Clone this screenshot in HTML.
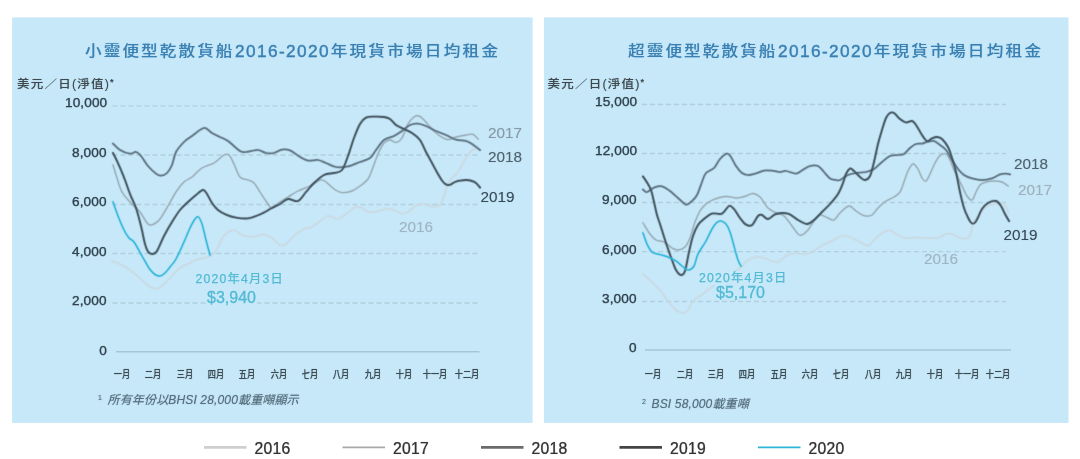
<!DOCTYPE html>
<html lang="zh-Hant"><head><meta charset="utf-8"><title>乾散貨船2016-2020年現貨市場日均租金</title>
<style>
html,body{margin:0;padding:0;background:#fff;}
body{width:1080px;height:459px;position:relative;overflow:hidden;font-family:"Liberation Sans","Noto Sans CJK TC",sans-serif;}
.panel{position:absolute;background:#c6e8f9;}
#wrap{position:absolute;left:0;top:0;width:1080px;height:459px;}
svg{position:absolute;left:0;top:0;}
svg path{fill:none;stroke-linecap:round;stroke-linejoin:round;}
svg .g{stroke:#b3cfdd;stroke-width:1.4;stroke-dasharray:5 3;}
svg .z{stroke:#a4c6d7;stroke-width:1.7;}
.t{position:absolute;white-space:nowrap;line-height:1;}
.title{color:#3a80b2;line-height:22px;height:22px;text-shadow:0 0 1px rgba(58,128,178,0.4);}
.title .c{display:inline-block;font-size:16.6px;letter-spacing:2.1px;font-weight:500;transform:scaleY(0.86);transform-origin:50% 62%;}
.title .c2{letter-spacing:2.25px;margin-left:0.8px;}
.title .n{position:relative;top:1px;margin-left:0.5px;font-size:17.2px;letter-spacing:1.4px;-webkit-text-stroke:0.3px #3a80b2;}
.ylab{color:#3f4a50;line-height:16px;height:16px;text-shadow:0 0 1px rgba(63,74,80,0.4);}
.ylab .c{display:inline-block;font-size:12.5px;letter-spacing:1.25px;font-weight:500;transform:scaleY(0.9);transform-origin:50% 62%;}
.ylab .n{font-size:12.5px;letter-spacing:1px;}
.ylab .s{font-size:9px;vertical-align:3px;font-weight:700;}
.sh{transform:translateY(-0.2px) rotate(0.02deg);}
.tick{letter-spacing:0.12px;font-size:13.6px;color:#31434f;-webkit-text-stroke:0.25px #31434f;text-shadow:0 0 1px rgba(49,67,79,0.45);line-height:16px;text-align:right;}
.mon{font-size:10px;font-weight:500;color:#3c4a52;text-shadow:0 0 1px rgba(60,74,82,0.6);width:40px;text-align:center;line-height:16px;transform:scaleX(0.82);}
.foot{font-size:12px;font-style:italic;color:#566e7e;text-shadow:0 0 1px rgba(86,110,126,0.6);line-height:16px;letter-spacing:0.15px;}
.foot .sup{font-size:7px;font-style:normal;vertical-align:4px;margin-right:2px;}
.ann1{font-size:12.2px;color:#52bad4;-webkit-text-stroke:0.25px #52bad4;line-height:14px;height:14px;letter-spacing:1.25px;background:#c6e8f9;padding:0 0 0 1px;}
.ann2{font-size:16px;color:#52bad4;-webkit-text-stroke:0.3px #52bad4;line-height:15px;height:15px;background:#c6e8f9;padding:0 1px;}
.yl{font-size:15.3px;line-height:18px;}
.leg{font-size:15.7px;color:#333;line-height:19px;letter-spacing:0.25px;-webkit-text-stroke:0.2px #333;text-shadow:0 0 1px rgba(51,51,51,0.4);}
</style></head>
<body><div id="wrap">
<svg width="1080" height="459" viewBox="0 0 1080 459">
<rect x="12.1" y="17.4" width="520.5" height="405.6" fill="#c6e8f9"/>
<rect x="544" y="17.4" width="524.5" height="405.6" fill="#c6e8f9"/>
<line x1="112.5" x2="478" y1="105.9" y2="105.9" class="g"/>
<line x1="112.5" x2="478" y1="155" y2="155" class="g"/>
<line x1="112.5" x2="478" y1="204.5" y2="204.5" class="g"/>
<line x1="112.5" x2="478" y1="253.5" y2="253.5" class="g"/>
<line x1="112.5" x2="478" y1="303" y2="303" class="g"/>
<line x1="116" x2="479.5" y1="351.8" y2="351.8" class="z" style="stroke-width:1.4"/>
<line x1="642" x2="1006" y1="104.5" y2="104.5" class="g"/>
<line x1="642" x2="1006" y1="153.5" y2="153.5" class="g"/>
<line x1="642" x2="1006" y1="202.5" y2="202.5" class="g"/>
<line x1="642" x2="1006" y1="251.6" y2="251.6" class="g"/>
<line x1="642" x2="1006" y1="301.5" y2="301.5" class="g"/>
<line x1="645" x2="1011" y1="350" y2="350" class="z"/>
<path d="M112.0 261.0C114.0 261.8 120.0 263.7 124.0 266.0C128.0 268.3 132.7 272.3 136.0 275.0C139.3 277.7 141.7 280.0 144.0 282.0C146.3 284.0 147.8 285.9 150.0 287.0C152.2 288.1 155.0 288.8 157.0 288.6C159.0 288.4 159.8 287.8 162.0 286.0C164.2 284.2 167.0 281.0 170.0 278.0C173.0 275.0 176.7 270.5 180.0 268.0C183.3 265.5 187.3 264.3 190.0 263.0C192.7 261.7 193.7 260.8 196.0 260.0C198.3 259.2 201.7 258.7 204.0 258.0C206.3 257.3 208.3 256.8 210.0 256.0C211.7 255.2 212.8 254.7 214.0 253.5C215.2 252.3 216.0 250.8 217.0 249.0C218.0 247.2 219.0 245.0 220.0 243.0C221.0 241.0 221.7 238.8 223.0 237.0C224.3 235.2 226.0 233.1 228.0 232.0C230.0 230.9 232.7 229.9 235.0 230.4C237.3 230.9 239.2 233.9 242.0 235.0C244.8 236.1 248.3 237.1 252.0 237.0C255.7 236.9 260.7 234.2 264.0 234.4C267.3 234.6 269.3 236.2 272.0 238.0C274.7 239.8 277.7 244.0 280.0 245.0C282.3 246.0 283.7 245.5 286.0 244.0C288.3 242.5 291.0 238.5 294.0 236.0C297.0 233.5 301.0 230.5 304.0 229.0C307.0 227.5 309.3 228.3 312.0 227.0C314.7 225.7 317.3 222.8 320.0 221.0C322.7 219.2 325.0 216.3 328.0 216.0C331.0 215.7 335.0 219.3 338.0 219.0C341.0 218.7 343.3 215.8 346.0 214.0C348.7 212.2 351.7 209.2 354.0 208.0C356.3 206.8 357.7 206.4 360.0 207.0C362.3 207.6 365.3 210.8 368.0 211.6C370.7 212.4 373.0 212.0 376.0 211.6C379.0 211.2 383.0 209.3 386.0 209.0C389.0 208.7 391.3 209.2 394.0 210.0C396.7 210.8 399.7 213.3 402.0 213.6C404.3 213.9 405.7 213.3 408.0 212.0C410.3 210.7 413.3 206.9 416.0 205.6C418.7 204.3 421.3 203.9 424.0 204.0C426.7 204.1 429.3 206.2 432.0 206.4C434.7 206.6 438.0 206.7 440.0 205.0C442.0 203.3 442.7 199.5 444.0 196.0C445.3 192.5 446.7 187.0 448.0 184.0C449.3 181.0 450.3 180.0 452.0 178.0C453.7 176.0 455.7 175.3 458.0 172.0C460.3 168.7 463.7 161.7 466.0 158.0C468.3 154.3 470.0 151.5 472.0 150.0C474.0 148.5 477.0 149.2 478.0 149.0" stroke="#ccdae2" stroke-width="3.30" stroke-opacity="0.22"/>
<path d="M112.0 261.0C114.0 261.8 120.0 263.7 124.0 266.0C128.0 268.3 132.7 272.3 136.0 275.0C139.3 277.7 141.7 280.0 144.0 282.0C146.3 284.0 147.8 285.9 150.0 287.0C152.2 288.1 155.0 288.8 157.0 288.6C159.0 288.4 159.8 287.8 162.0 286.0C164.2 284.2 167.0 281.0 170.0 278.0C173.0 275.0 176.7 270.5 180.0 268.0C183.3 265.5 187.3 264.3 190.0 263.0C192.7 261.7 193.7 260.8 196.0 260.0C198.3 259.2 201.7 258.7 204.0 258.0C206.3 257.3 208.3 256.8 210.0 256.0C211.7 255.2 212.8 254.7 214.0 253.5C215.2 252.3 216.0 250.8 217.0 249.0C218.0 247.2 219.0 245.0 220.0 243.0C221.0 241.0 221.7 238.8 223.0 237.0C224.3 235.2 226.0 233.1 228.0 232.0C230.0 230.9 232.7 229.9 235.0 230.4C237.3 230.9 239.2 233.9 242.0 235.0C244.8 236.1 248.3 237.1 252.0 237.0C255.7 236.9 260.7 234.2 264.0 234.4C267.3 234.6 269.3 236.2 272.0 238.0C274.7 239.8 277.7 244.0 280.0 245.0C282.3 246.0 283.7 245.5 286.0 244.0C288.3 242.5 291.0 238.5 294.0 236.0C297.0 233.5 301.0 230.5 304.0 229.0C307.0 227.5 309.3 228.3 312.0 227.0C314.7 225.7 317.3 222.8 320.0 221.0C322.7 219.2 325.0 216.3 328.0 216.0C331.0 215.7 335.0 219.3 338.0 219.0C341.0 218.7 343.3 215.8 346.0 214.0C348.7 212.2 351.7 209.2 354.0 208.0C356.3 206.8 357.7 206.4 360.0 207.0C362.3 207.6 365.3 210.8 368.0 211.6C370.7 212.4 373.0 212.0 376.0 211.6C379.0 211.2 383.0 209.3 386.0 209.0C389.0 208.7 391.3 209.2 394.0 210.0C396.7 210.8 399.7 213.3 402.0 213.6C404.3 213.9 405.7 213.3 408.0 212.0C410.3 210.7 413.3 206.9 416.0 205.6C418.7 204.3 421.3 203.9 424.0 204.0C426.7 204.1 429.3 206.2 432.0 206.4C434.7 206.6 438.0 206.7 440.0 205.0C442.0 203.3 442.7 199.5 444.0 196.0C445.3 192.5 446.7 187.0 448.0 184.0C449.3 181.0 450.3 180.0 452.0 178.0C453.7 176.0 455.7 175.3 458.0 172.0C460.3 168.7 463.7 161.7 466.0 158.0C468.3 154.3 470.0 151.5 472.0 150.0C474.0 148.5 477.0 149.2 478.0 149.0" stroke="#ccdae2" stroke-width="1.65" stroke-opacity="0.88"/>
<path d="M113.0 165.0C113.7 167.2 115.5 173.5 117.0 178.0C118.5 182.5 119.8 188.0 122.0 192.0C124.2 196.0 127.0 198.7 130.0 202.0C133.0 205.3 137.0 208.3 140.0 212.0C143.0 215.7 145.7 222.0 148.0 224.0C150.3 226.0 152.0 224.8 154.0 224.0C156.0 223.2 157.7 222.0 160.0 219.0C162.3 216.0 165.3 210.5 168.0 206.0C170.7 201.5 173.3 196.0 176.0 192.0C178.7 188.0 181.3 184.5 184.0 182.0C186.7 179.5 189.0 179.3 192.0 177.0C195.0 174.7 198.3 170.3 202.0 168.0C205.7 165.7 210.3 165.2 214.0 163.0C217.7 160.8 221.5 156.3 224.0 155.0C226.5 153.7 227.3 153.5 229.0 155.0C230.7 156.5 232.2 160.3 234.0 164.0C235.8 167.7 237.7 174.3 240.0 177.0C242.3 179.7 245.7 179.0 248.0 180.0C250.3 181.0 252.0 181.0 254.0 183.0C256.0 185.0 257.7 188.5 260.0 192.0C262.3 195.5 266.0 201.3 268.0 204.0C270.0 206.7 270.0 208.3 272.0 208.0C274.0 207.7 277.3 203.8 280.0 202.0C282.7 200.2 285.0 198.8 288.0 197.0C291.0 195.2 294.3 192.8 298.0 191.0C301.7 189.2 306.3 187.8 310.0 186.0C313.7 184.2 317.3 180.7 320.0 180.0C322.7 179.3 323.7 180.5 326.0 182.0C328.3 183.5 331.3 187.2 334.0 189.0C336.7 190.8 339.0 192.3 342.0 192.6C345.0 192.9 349.0 192.1 352.0 191.0C355.0 189.9 357.3 188.0 360.0 186.0C362.7 184.0 366.0 181.7 368.0 179.0C370.0 176.3 370.3 174.2 372.0 170.0C373.7 165.8 376.0 158.5 378.0 154.0C380.0 149.5 382.0 145.3 384.0 143.0C386.0 140.7 388.0 140.1 390.0 140.0C392.0 139.9 394.0 142.7 396.0 142.4C398.0 142.1 400.0 141.1 402.0 138.0C404.0 134.9 406.0 127.5 408.0 124.0C410.0 120.5 412.2 118.3 414.0 117.0C415.8 115.7 417.3 115.5 419.0 116.0C420.7 116.5 421.8 117.8 424.0 120.0C426.2 122.2 429.3 126.3 432.0 129.0C434.7 131.7 437.3 134.2 440.0 136.0C442.7 137.8 445.3 139.4 448.0 139.6C450.7 139.8 453.0 137.8 456.0 137.0C459.0 136.2 463.2 135.4 466.0 135.0C468.8 134.6 471.0 133.7 473.0 134.4C475.0 135.1 477.2 138.2 478.0 139.0" stroke="#9badb8" stroke-width="3.00" stroke-opacity="0.22"/>
<path d="M113.0 165.0C113.7 167.2 115.5 173.5 117.0 178.0C118.5 182.5 119.8 188.0 122.0 192.0C124.2 196.0 127.0 198.7 130.0 202.0C133.0 205.3 137.0 208.3 140.0 212.0C143.0 215.7 145.7 222.0 148.0 224.0C150.3 226.0 152.0 224.8 154.0 224.0C156.0 223.2 157.7 222.0 160.0 219.0C162.3 216.0 165.3 210.5 168.0 206.0C170.7 201.5 173.3 196.0 176.0 192.0C178.7 188.0 181.3 184.5 184.0 182.0C186.7 179.5 189.0 179.3 192.0 177.0C195.0 174.7 198.3 170.3 202.0 168.0C205.7 165.7 210.3 165.2 214.0 163.0C217.7 160.8 221.5 156.3 224.0 155.0C226.5 153.7 227.3 153.5 229.0 155.0C230.7 156.5 232.2 160.3 234.0 164.0C235.8 167.7 237.7 174.3 240.0 177.0C242.3 179.7 245.7 179.0 248.0 180.0C250.3 181.0 252.0 181.0 254.0 183.0C256.0 185.0 257.7 188.5 260.0 192.0C262.3 195.5 266.0 201.3 268.0 204.0C270.0 206.7 270.0 208.3 272.0 208.0C274.0 207.7 277.3 203.8 280.0 202.0C282.7 200.2 285.0 198.8 288.0 197.0C291.0 195.2 294.3 192.8 298.0 191.0C301.7 189.2 306.3 187.8 310.0 186.0C313.7 184.2 317.3 180.7 320.0 180.0C322.7 179.3 323.7 180.5 326.0 182.0C328.3 183.5 331.3 187.2 334.0 189.0C336.7 190.8 339.0 192.3 342.0 192.6C345.0 192.9 349.0 192.1 352.0 191.0C355.0 189.9 357.3 188.0 360.0 186.0C362.7 184.0 366.0 181.7 368.0 179.0C370.0 176.3 370.3 174.2 372.0 170.0C373.7 165.8 376.0 158.5 378.0 154.0C380.0 149.5 382.0 145.3 384.0 143.0C386.0 140.7 388.0 140.1 390.0 140.0C392.0 139.9 394.0 142.7 396.0 142.4C398.0 142.1 400.0 141.1 402.0 138.0C404.0 134.9 406.0 127.5 408.0 124.0C410.0 120.5 412.2 118.3 414.0 117.0C415.8 115.7 417.3 115.5 419.0 116.0C420.7 116.5 421.8 117.8 424.0 120.0C426.2 122.2 429.3 126.3 432.0 129.0C434.7 131.7 437.3 134.2 440.0 136.0C442.7 137.8 445.3 139.4 448.0 139.6C450.7 139.8 453.0 137.8 456.0 137.0C459.0 136.2 463.2 135.4 466.0 135.0C468.8 134.6 471.0 133.7 473.0 134.4C475.0 135.1 477.2 138.2 478.0 139.0" stroke="#9badb8" stroke-width="1.35" stroke-opacity="0.88"/>
<path d="M113.0 143.6C114.2 144.7 117.2 148.3 120.0 150.0C122.8 151.7 127.3 153.3 130.0 153.6C132.7 153.9 134.2 151.6 136.0 152.0C137.8 152.4 139.0 153.7 141.0 156.0C143.0 158.3 145.5 163.1 148.0 166.0C150.5 168.9 153.8 172.0 156.0 173.6C158.2 175.2 159.2 175.7 161.0 175.6C162.8 175.5 165.2 174.8 167.0 173.0C168.8 171.2 170.5 168.5 172.0 165.0C173.5 161.5 174.0 155.8 176.0 152.0C178.0 148.2 181.3 144.7 184.0 142.0C186.7 139.3 188.7 138.3 192.0 136.0C195.3 133.7 200.7 128.5 204.0 128.0C207.3 127.5 209.3 131.5 212.0 133.0C214.7 134.5 217.3 135.7 220.0 137.0C222.7 138.3 224.7 138.7 228.0 141.0C231.3 143.3 237.0 149.2 240.0 151.0C243.0 152.8 243.0 152.2 246.0 152.0C249.0 151.8 254.7 149.8 258.0 150.0C261.3 150.2 263.3 152.5 266.0 153.0C268.7 153.5 271.3 153.6 274.0 153.0C276.7 152.4 279.3 150.0 282.0 149.6C284.7 149.2 287.0 149.2 290.0 150.4C293.0 151.6 297.0 155.3 300.0 157.0C303.0 158.7 305.0 160.1 308.0 160.6C311.0 161.1 315.0 159.6 318.0 160.0C321.0 160.4 323.0 161.8 326.0 163.0C329.0 164.2 332.3 166.4 336.0 167.0C339.7 167.6 344.0 167.2 348.0 166.4C352.0 165.6 356.3 163.4 360.0 162.0C363.7 160.6 367.3 160.0 370.0 158.0C372.7 156.0 373.7 153.0 376.0 150.0C378.3 147.0 381.0 142.3 384.0 140.0C387.0 137.7 391.0 137.5 394.0 136.0C397.0 134.5 399.3 132.8 402.0 131.0C404.7 129.2 407.3 126.2 410.0 125.0C412.7 123.8 415.3 123.4 418.0 123.6C420.7 123.8 423.0 124.8 426.0 126.0C429.0 127.2 432.7 129.5 436.0 131.0C439.3 132.5 442.7 133.6 446.0 135.0C449.3 136.4 452.7 138.6 456.0 139.6C459.3 140.6 463.3 140.3 466.0 141.0C468.7 141.7 469.7 142.5 472.0 144.0C474.3 145.5 478.7 149.0 480.0 150.0" stroke="#5f7482" stroke-width="3.40" stroke-opacity="0.22"/>
<path d="M113.0 143.6C114.2 144.7 117.2 148.3 120.0 150.0C122.8 151.7 127.3 153.3 130.0 153.6C132.7 153.9 134.2 151.6 136.0 152.0C137.8 152.4 139.0 153.7 141.0 156.0C143.0 158.3 145.5 163.1 148.0 166.0C150.5 168.9 153.8 172.0 156.0 173.6C158.2 175.2 159.2 175.7 161.0 175.6C162.8 175.5 165.2 174.8 167.0 173.0C168.8 171.2 170.5 168.5 172.0 165.0C173.5 161.5 174.0 155.8 176.0 152.0C178.0 148.2 181.3 144.7 184.0 142.0C186.7 139.3 188.7 138.3 192.0 136.0C195.3 133.7 200.7 128.5 204.0 128.0C207.3 127.5 209.3 131.5 212.0 133.0C214.7 134.5 217.3 135.7 220.0 137.0C222.7 138.3 224.7 138.7 228.0 141.0C231.3 143.3 237.0 149.2 240.0 151.0C243.0 152.8 243.0 152.2 246.0 152.0C249.0 151.8 254.7 149.8 258.0 150.0C261.3 150.2 263.3 152.5 266.0 153.0C268.7 153.5 271.3 153.6 274.0 153.0C276.7 152.4 279.3 150.0 282.0 149.6C284.7 149.2 287.0 149.2 290.0 150.4C293.0 151.6 297.0 155.3 300.0 157.0C303.0 158.7 305.0 160.1 308.0 160.6C311.0 161.1 315.0 159.6 318.0 160.0C321.0 160.4 323.0 161.8 326.0 163.0C329.0 164.2 332.3 166.4 336.0 167.0C339.7 167.6 344.0 167.2 348.0 166.4C352.0 165.6 356.3 163.4 360.0 162.0C363.7 160.6 367.3 160.0 370.0 158.0C372.7 156.0 373.7 153.0 376.0 150.0C378.3 147.0 381.0 142.3 384.0 140.0C387.0 137.7 391.0 137.5 394.0 136.0C397.0 134.5 399.3 132.8 402.0 131.0C404.7 129.2 407.3 126.2 410.0 125.0C412.7 123.8 415.3 123.4 418.0 123.6C420.7 123.8 423.0 124.8 426.0 126.0C429.0 127.2 432.7 129.5 436.0 131.0C439.3 132.5 442.7 133.6 446.0 135.0C449.3 136.4 452.7 138.6 456.0 139.6C459.3 140.6 463.3 140.3 466.0 141.0C468.7 141.7 469.7 142.5 472.0 144.0C474.3 145.5 478.7 149.0 480.0 150.0" stroke="#5f7482" stroke-width="1.75" stroke-opacity="0.88"/>
<path d="M113.0 153.0C113.7 154.3 115.7 158.2 117.0 161.0C118.3 163.8 119.7 166.8 121.0 170.0C122.3 173.2 123.5 176.0 125.0 180.0C126.5 184.0 128.2 189.3 130.0 194.0C131.8 198.7 134.2 202.7 136.0 208.0C137.8 213.3 139.5 220.0 141.0 226.0C142.5 232.0 143.8 239.7 145.0 244.0C146.2 248.3 146.8 249.9 148.0 251.6C149.2 253.3 150.9 254.1 152.4 254.0C153.9 253.9 155.1 254.0 157.0 251.0C158.9 248.0 161.5 240.8 164.0 236.0C166.5 231.2 169.3 226.3 172.0 222.0C174.7 217.7 177.3 213.3 180.0 210.0C182.7 206.7 185.3 204.5 188.0 202.0C190.7 199.5 193.5 197.0 196.0 195.0C198.5 193.0 201.2 190.2 203.0 190.0C204.8 189.8 205.5 191.8 207.0 194.0C208.5 196.2 210.2 200.3 212.0 203.0C213.8 205.7 215.7 208.1 218.0 210.0C220.3 211.9 223.0 213.3 226.0 214.6C229.0 215.9 232.3 217.0 236.0 217.6C239.7 218.2 244.0 218.9 248.0 218.4C252.0 217.9 256.0 216.1 260.0 214.4C264.0 212.7 268.7 209.7 272.0 208.0C275.3 206.3 277.3 205.5 280.0 204.0C282.7 202.5 285.0 199.5 288.0 199.0C291.0 198.5 295.0 202.2 298.0 201.0C301.0 199.8 303.3 195.0 306.0 192.0C308.7 189.0 311.0 185.8 314.0 183.0C317.0 180.2 320.7 176.7 324.0 175.0C327.3 173.3 331.0 173.8 334.0 173.0C337.0 172.2 339.7 172.8 342.0 170.0C344.3 167.2 346.0 161.3 348.0 156.0C350.0 150.7 352.0 143.3 354.0 138.0C356.0 132.7 358.0 127.4 360.0 124.0C362.0 120.6 363.7 118.8 366.0 117.6C368.3 116.4 371.0 116.7 374.0 116.6C377.0 116.5 381.3 116.6 384.0 117.0C386.7 117.4 388.0 117.7 390.0 119.0C392.0 120.3 393.7 123.3 396.0 125.0C398.3 126.7 401.3 127.7 404.0 129.0C406.7 130.3 409.3 131.2 412.0 133.0C414.7 134.8 417.7 136.8 420.0 140.0C422.3 143.2 424.0 148.2 426.0 152.0C428.0 155.8 430.0 159.3 432.0 163.0C434.0 166.7 436.3 171.1 438.0 174.0C439.7 176.9 440.8 178.9 442.0 180.5C443.2 182.1 444.0 183.1 445.0 183.8C446.0 184.6 447.0 184.9 448.0 185.0C449.0 185.1 449.8 184.8 451.0 184.3C452.2 183.8 453.5 182.6 455.0 182.0C456.5 181.4 458.2 180.9 460.0 180.6C461.8 180.3 464.0 179.9 466.0 180.0C468.0 180.1 470.3 180.5 472.0 181.0C473.7 181.5 474.7 181.9 476.0 183.0C477.3 184.1 479.3 186.8 480.0 187.5" stroke="#42545f" stroke-width="3.50" stroke-opacity="0.22"/>
<path d="M113.0 153.0C113.7 154.3 115.7 158.2 117.0 161.0C118.3 163.8 119.7 166.8 121.0 170.0C122.3 173.2 123.5 176.0 125.0 180.0C126.5 184.0 128.2 189.3 130.0 194.0C131.8 198.7 134.2 202.7 136.0 208.0C137.8 213.3 139.5 220.0 141.0 226.0C142.5 232.0 143.8 239.7 145.0 244.0C146.2 248.3 146.8 249.9 148.0 251.6C149.2 253.3 150.9 254.1 152.4 254.0C153.9 253.9 155.1 254.0 157.0 251.0C158.9 248.0 161.5 240.8 164.0 236.0C166.5 231.2 169.3 226.3 172.0 222.0C174.7 217.7 177.3 213.3 180.0 210.0C182.7 206.7 185.3 204.5 188.0 202.0C190.7 199.5 193.5 197.0 196.0 195.0C198.5 193.0 201.2 190.2 203.0 190.0C204.8 189.8 205.5 191.8 207.0 194.0C208.5 196.2 210.2 200.3 212.0 203.0C213.8 205.7 215.7 208.1 218.0 210.0C220.3 211.9 223.0 213.3 226.0 214.6C229.0 215.9 232.3 217.0 236.0 217.6C239.7 218.2 244.0 218.9 248.0 218.4C252.0 217.9 256.0 216.1 260.0 214.4C264.0 212.7 268.7 209.7 272.0 208.0C275.3 206.3 277.3 205.5 280.0 204.0C282.7 202.5 285.0 199.5 288.0 199.0C291.0 198.5 295.0 202.2 298.0 201.0C301.0 199.8 303.3 195.0 306.0 192.0C308.7 189.0 311.0 185.8 314.0 183.0C317.0 180.2 320.7 176.7 324.0 175.0C327.3 173.3 331.0 173.8 334.0 173.0C337.0 172.2 339.7 172.8 342.0 170.0C344.3 167.2 346.0 161.3 348.0 156.0C350.0 150.7 352.0 143.3 354.0 138.0C356.0 132.7 358.0 127.4 360.0 124.0C362.0 120.6 363.7 118.8 366.0 117.6C368.3 116.4 371.0 116.7 374.0 116.6C377.0 116.5 381.3 116.6 384.0 117.0C386.7 117.4 388.0 117.7 390.0 119.0C392.0 120.3 393.7 123.3 396.0 125.0C398.3 126.7 401.3 127.7 404.0 129.0C406.7 130.3 409.3 131.2 412.0 133.0C414.7 134.8 417.7 136.8 420.0 140.0C422.3 143.2 424.0 148.2 426.0 152.0C428.0 155.8 430.0 159.3 432.0 163.0C434.0 166.7 436.3 171.1 438.0 174.0C439.7 176.9 440.8 178.9 442.0 180.5C443.2 182.1 444.0 183.1 445.0 183.8C446.0 184.6 447.0 184.9 448.0 185.0C449.0 185.1 449.8 184.8 451.0 184.3C452.2 183.8 453.5 182.6 455.0 182.0C456.5 181.4 458.2 180.9 460.0 180.6C461.8 180.3 464.0 179.9 466.0 180.0C468.0 180.1 470.3 180.5 472.0 181.0C473.7 181.5 474.7 181.9 476.0 183.0C477.3 184.1 479.3 186.8 480.0 187.5" stroke="#42545f" stroke-width="1.85" stroke-opacity="0.88"/>
<path d="M113.0 202.0C113.8 204.3 116.2 211.3 118.0 216.0C119.8 220.7 122.2 226.3 124.0 230.0C125.8 233.7 127.3 236.0 129.0 238.0C130.7 240.0 131.8 239.0 134.0 242.0C136.2 245.0 140.0 252.5 142.0 256.0C144.0 259.5 144.7 260.8 146.0 263.0C147.3 265.2 148.5 267.6 150.0 269.5C151.5 271.4 153.3 273.4 155.0 274.5C156.7 275.6 158.3 276.2 160.0 276.0C161.7 275.8 163.3 274.5 165.0 273.0C166.7 271.5 168.2 269.3 170.0 267.0C171.8 264.7 173.7 263.2 176.0 259.0C178.3 254.8 181.7 247.2 184.0 242.0C186.3 236.8 188.2 231.8 190.0 228.0C191.8 224.2 193.6 220.8 195.0 219.0C196.4 217.2 197.2 216.2 198.4 217.0C199.6 217.8 200.7 220.2 202.0 224.0C203.3 227.8 204.7 234.8 206.0 240.0C207.3 245.2 209.3 252.5 210.0 255.0" stroke="#2fb5d9" stroke-width="3.15" stroke-opacity="0.22"/>
<path d="M113.0 202.0C113.8 204.3 116.2 211.3 118.0 216.0C119.8 220.7 122.2 226.3 124.0 230.0C125.8 233.7 127.3 236.0 129.0 238.0C130.7 240.0 131.8 239.0 134.0 242.0C136.2 245.0 140.0 252.5 142.0 256.0C144.0 259.5 144.7 260.8 146.0 263.0C147.3 265.2 148.5 267.6 150.0 269.5C151.5 271.4 153.3 273.4 155.0 274.5C156.7 275.6 158.3 276.2 160.0 276.0C161.7 275.8 163.3 274.5 165.0 273.0C166.7 271.5 168.2 269.3 170.0 267.0C171.8 264.7 173.7 263.2 176.0 259.0C178.3 254.8 181.7 247.2 184.0 242.0C186.3 236.8 188.2 231.8 190.0 228.0C191.8 224.2 193.6 220.8 195.0 219.0C196.4 217.2 197.2 216.2 198.4 217.0C199.6 217.8 200.7 220.2 202.0 224.0C203.3 227.8 204.7 234.8 206.0 240.0C207.3 245.2 209.3 252.5 210.0 255.0" stroke="#2fb5d9" stroke-width="1.50" stroke-opacity="0.88"/>
<path d="M643.0 274.0C644.5 275.3 649.2 279.3 652.0 282.0C654.8 284.7 657.3 286.8 660.0 290.0C662.7 293.2 665.3 297.7 668.0 301.0C670.7 304.3 673.5 308.0 676.0 310.0C678.5 312.0 681.0 313.0 683.0 313.0C685.0 313.0 686.3 312.0 688.0 310.0C689.7 308.0 691.0 303.3 693.0 301.0C695.0 298.7 697.5 297.8 700.0 296.0C702.5 294.2 705.3 292.0 708.0 290.0C710.7 288.0 712.7 286.3 716.0 284.0C719.3 281.7 724.0 278.7 728.0 276.0C732.0 273.3 736.7 270.7 740.0 268.0C743.3 265.3 745.3 261.8 748.0 260.0C750.7 258.2 753.3 257.3 756.0 257.0C758.7 256.7 761.3 257.3 764.0 258.0C766.7 258.7 769.7 260.3 772.0 261.0C774.3 261.7 775.7 262.8 778.0 262.0C780.3 261.2 783.3 257.5 786.0 256.0C788.7 254.5 791.3 253.3 794.0 253.0C796.7 252.7 799.3 254.0 802.0 254.0C804.7 254.0 807.3 254.0 810.0 253.0C812.7 252.0 815.3 249.6 818.0 248.0C820.7 246.4 823.7 244.8 826.0 243.6C828.3 242.4 829.3 242.3 832.0 241.0C834.7 239.7 839.0 236.7 842.0 236.0C845.0 235.3 847.0 236.0 850.0 237.0C853.0 238.0 857.0 240.6 860.0 242.0C863.0 243.4 865.3 246.3 868.0 245.6C870.7 244.9 873.3 240.3 876.0 238.0C878.7 235.7 881.7 233.3 884.0 232.0C886.3 230.7 888.0 230.1 890.0 230.4C892.0 230.7 893.7 232.7 896.0 234.0C898.3 235.3 900.7 237.4 904.0 238.0C907.3 238.6 912.0 237.6 916.0 237.6C920.0 237.6 924.3 237.9 928.0 238.0C931.7 238.1 935.0 238.7 938.0 238.0C941.0 237.3 943.7 234.7 946.0 234.0C948.3 233.3 949.7 233.3 952.0 234.0C954.3 234.7 957.3 237.3 960.0 238.0C962.7 238.7 966.2 239.0 968.0 238.0C969.8 237.0 970.2 234.3 971.0 232.0C971.8 229.7 971.8 226.7 973.0 224.0C974.2 221.3 975.8 218.8 978.0 216.0C980.2 213.2 983.3 209.0 986.0 207.0C988.7 205.0 991.3 204.7 994.0 204.0C996.7 203.3 999.8 202.3 1002.0 203.0C1004.2 203.7 1006.0 206.3 1007.0 208.0C1008.0 209.7 1007.8 212.2 1008.0 213.0" stroke="#ccdae2" stroke-width="3.30" stroke-opacity="0.22"/>
<path d="M643.0 274.0C644.5 275.3 649.2 279.3 652.0 282.0C654.8 284.7 657.3 286.8 660.0 290.0C662.7 293.2 665.3 297.7 668.0 301.0C670.7 304.3 673.5 308.0 676.0 310.0C678.5 312.0 681.0 313.0 683.0 313.0C685.0 313.0 686.3 312.0 688.0 310.0C689.7 308.0 691.0 303.3 693.0 301.0C695.0 298.7 697.5 297.8 700.0 296.0C702.5 294.2 705.3 292.0 708.0 290.0C710.7 288.0 712.7 286.3 716.0 284.0C719.3 281.7 724.0 278.7 728.0 276.0C732.0 273.3 736.7 270.7 740.0 268.0C743.3 265.3 745.3 261.8 748.0 260.0C750.7 258.2 753.3 257.3 756.0 257.0C758.7 256.7 761.3 257.3 764.0 258.0C766.7 258.7 769.7 260.3 772.0 261.0C774.3 261.7 775.7 262.8 778.0 262.0C780.3 261.2 783.3 257.5 786.0 256.0C788.7 254.5 791.3 253.3 794.0 253.0C796.7 252.7 799.3 254.0 802.0 254.0C804.7 254.0 807.3 254.0 810.0 253.0C812.7 252.0 815.3 249.6 818.0 248.0C820.7 246.4 823.7 244.8 826.0 243.6C828.3 242.4 829.3 242.3 832.0 241.0C834.7 239.7 839.0 236.7 842.0 236.0C845.0 235.3 847.0 236.0 850.0 237.0C853.0 238.0 857.0 240.6 860.0 242.0C863.0 243.4 865.3 246.3 868.0 245.6C870.7 244.9 873.3 240.3 876.0 238.0C878.7 235.7 881.7 233.3 884.0 232.0C886.3 230.7 888.0 230.1 890.0 230.4C892.0 230.7 893.7 232.7 896.0 234.0C898.3 235.3 900.7 237.4 904.0 238.0C907.3 238.6 912.0 237.6 916.0 237.6C920.0 237.6 924.3 237.9 928.0 238.0C931.7 238.1 935.0 238.7 938.0 238.0C941.0 237.3 943.7 234.7 946.0 234.0C948.3 233.3 949.7 233.3 952.0 234.0C954.3 234.7 957.3 237.3 960.0 238.0C962.7 238.7 966.2 239.0 968.0 238.0C969.8 237.0 970.2 234.3 971.0 232.0C971.8 229.7 971.8 226.7 973.0 224.0C974.2 221.3 975.8 218.8 978.0 216.0C980.2 213.2 983.3 209.0 986.0 207.0C988.7 205.0 991.3 204.7 994.0 204.0C996.7 203.3 999.8 202.3 1002.0 203.0C1004.2 203.7 1006.0 206.3 1007.0 208.0C1008.0 209.7 1007.8 212.2 1008.0 213.0" stroke="#ccdae2" stroke-width="1.65" stroke-opacity="0.88"/>
<path d="M643.0 223.0C644.2 224.8 647.8 231.2 650.0 234.0C652.2 236.8 653.7 238.7 656.0 240.0C658.3 241.3 661.3 240.7 664.0 242.0C666.7 243.3 669.7 246.7 672.0 248.0C674.3 249.3 675.8 250.2 678.0 250.0C680.2 249.8 683.0 249.0 685.0 247.0C687.0 245.0 688.3 242.2 690.0 238.0C691.7 233.8 693.3 226.5 695.0 222.0C696.7 217.5 698.5 213.7 700.0 211.0C701.5 208.3 702.7 207.4 704.0 206.0C705.3 204.6 706.3 203.6 708.0 202.5C709.7 201.4 712.0 200.1 714.0 199.3C716.0 198.5 718.0 198.0 720.0 197.5C722.0 197.0 724.0 196.6 726.0 196.5C728.0 196.4 730.3 196.9 732.0 197.2C733.7 197.4 734.7 197.9 736.0 198.0C737.3 198.1 738.3 197.9 740.0 197.6C741.7 197.3 743.8 196.7 746.0 196.0C748.2 195.3 750.7 193.3 753.0 193.5C755.3 193.7 757.5 194.6 760.0 197.0C762.5 199.4 765.3 205.4 768.0 208.0C770.7 210.6 773.3 211.3 776.0 212.6C778.7 213.9 781.3 213.8 784.0 216.0C786.7 218.2 789.7 223.0 792.0 226.0C794.3 229.0 796.3 232.5 798.0 234.0C799.7 235.5 800.3 235.7 802.0 235.0C803.7 234.3 806.0 232.3 808.0 230.0C810.0 227.7 812.0 223.5 814.0 221.0C816.0 218.5 817.7 215.5 820.0 215.0C822.3 214.5 825.7 217.2 828.0 218.0C830.3 218.8 832.0 220.8 834.0 220.0C836.0 219.2 837.5 215.3 840.0 213.0C842.5 210.7 846.3 206.3 849.0 206.0C851.7 205.7 853.5 209.4 856.0 211.0C858.5 212.6 861.3 214.9 864.0 215.6C866.7 216.3 869.7 216.3 872.0 215.0C874.3 213.7 875.7 210.3 878.0 208.0C880.3 205.7 883.3 202.8 886.0 201.0C888.7 199.2 891.7 198.5 894.0 197.0C896.3 195.5 898.3 194.5 900.0 192.0C901.7 189.5 902.7 185.5 904.0 182.0C905.3 178.5 906.5 174.0 908.0 171.0C909.5 168.0 911.3 164.3 913.0 164.0C914.7 163.7 916.5 166.7 918.0 169.0C919.5 171.3 920.7 176.0 922.0 178.0C923.3 180.0 924.7 181.7 926.0 181.0C927.3 180.3 928.5 177.0 930.0 174.0C931.5 171.0 933.3 166.1 935.0 163.0C936.7 159.9 938.2 157.1 940.0 155.6C941.8 154.1 944.3 153.3 946.0 154.0C947.7 154.7 948.7 157.3 950.0 160.0C951.3 162.7 952.7 167.0 954.0 170.0C955.3 173.0 956.7 175.3 958.0 178.0C959.3 180.7 960.5 183.0 962.0 186.0C963.5 189.0 965.3 193.7 967.0 196.0C968.7 198.3 970.5 200.7 972.0 200.0C973.5 199.3 974.7 194.5 976.0 192.0C977.3 189.5 978.3 186.7 980.0 185.0C981.7 183.3 983.7 182.7 986.0 182.0C988.3 181.3 991.3 181.0 994.0 181.0C996.7 181.0 999.7 181.2 1002.0 182.0C1004.3 182.8 1007.0 185.3 1008.0 186.0" stroke="#9badb8" stroke-width="3.00" stroke-opacity="0.22"/>
<path d="M643.0 223.0C644.2 224.8 647.8 231.2 650.0 234.0C652.2 236.8 653.7 238.7 656.0 240.0C658.3 241.3 661.3 240.7 664.0 242.0C666.7 243.3 669.7 246.7 672.0 248.0C674.3 249.3 675.8 250.2 678.0 250.0C680.2 249.8 683.0 249.0 685.0 247.0C687.0 245.0 688.3 242.2 690.0 238.0C691.7 233.8 693.3 226.5 695.0 222.0C696.7 217.5 698.5 213.7 700.0 211.0C701.5 208.3 702.7 207.4 704.0 206.0C705.3 204.6 706.3 203.6 708.0 202.5C709.7 201.4 712.0 200.1 714.0 199.3C716.0 198.5 718.0 198.0 720.0 197.5C722.0 197.0 724.0 196.6 726.0 196.5C728.0 196.4 730.3 196.9 732.0 197.2C733.7 197.4 734.7 197.9 736.0 198.0C737.3 198.1 738.3 197.9 740.0 197.6C741.7 197.3 743.8 196.7 746.0 196.0C748.2 195.3 750.7 193.3 753.0 193.5C755.3 193.7 757.5 194.6 760.0 197.0C762.5 199.4 765.3 205.4 768.0 208.0C770.7 210.6 773.3 211.3 776.0 212.6C778.7 213.9 781.3 213.8 784.0 216.0C786.7 218.2 789.7 223.0 792.0 226.0C794.3 229.0 796.3 232.5 798.0 234.0C799.7 235.5 800.3 235.7 802.0 235.0C803.7 234.3 806.0 232.3 808.0 230.0C810.0 227.7 812.0 223.5 814.0 221.0C816.0 218.5 817.7 215.5 820.0 215.0C822.3 214.5 825.7 217.2 828.0 218.0C830.3 218.8 832.0 220.8 834.0 220.0C836.0 219.2 837.5 215.3 840.0 213.0C842.5 210.7 846.3 206.3 849.0 206.0C851.7 205.7 853.5 209.4 856.0 211.0C858.5 212.6 861.3 214.9 864.0 215.6C866.7 216.3 869.7 216.3 872.0 215.0C874.3 213.7 875.7 210.3 878.0 208.0C880.3 205.7 883.3 202.8 886.0 201.0C888.7 199.2 891.7 198.5 894.0 197.0C896.3 195.5 898.3 194.5 900.0 192.0C901.7 189.5 902.7 185.5 904.0 182.0C905.3 178.5 906.5 174.0 908.0 171.0C909.5 168.0 911.3 164.3 913.0 164.0C914.7 163.7 916.5 166.7 918.0 169.0C919.5 171.3 920.7 176.0 922.0 178.0C923.3 180.0 924.7 181.7 926.0 181.0C927.3 180.3 928.5 177.0 930.0 174.0C931.5 171.0 933.3 166.1 935.0 163.0C936.7 159.9 938.2 157.1 940.0 155.6C941.8 154.1 944.3 153.3 946.0 154.0C947.7 154.7 948.7 157.3 950.0 160.0C951.3 162.7 952.7 167.0 954.0 170.0C955.3 173.0 956.7 175.3 958.0 178.0C959.3 180.7 960.5 183.0 962.0 186.0C963.5 189.0 965.3 193.7 967.0 196.0C968.7 198.3 970.5 200.7 972.0 200.0C973.5 199.3 974.7 194.5 976.0 192.0C977.3 189.5 978.3 186.7 980.0 185.0C981.7 183.3 983.7 182.7 986.0 182.0C988.3 181.3 991.3 181.0 994.0 181.0C996.7 181.0 999.7 181.2 1002.0 182.0C1004.3 182.8 1007.0 185.3 1008.0 186.0" stroke="#9badb8" stroke-width="1.35" stroke-opacity="0.88"/>
<path d="M643.0 189.6C643.7 190.0 645.2 192.3 647.0 192.0C648.8 191.7 651.5 188.5 654.0 187.6C656.5 186.7 659.3 185.8 662.0 186.4C664.7 187.0 667.3 189.1 670.0 191.0C672.7 192.9 675.3 195.7 678.0 198.0C680.7 200.3 683.7 204.1 686.0 204.6C688.3 205.1 690.2 202.6 692.0 201.0C693.8 199.4 695.3 198.2 697.0 195.0C698.7 191.8 700.5 185.7 702.0 182.0C703.5 178.3 704.0 175.3 706.0 173.0C708.0 170.7 711.7 170.3 714.0 168.0C716.3 165.7 717.8 161.4 720.0 159.0C722.2 156.6 725.2 153.9 727.0 153.6C728.8 153.3 729.5 154.9 731.0 157.0C732.5 159.1 734.2 163.3 736.0 166.0C737.8 168.7 740.0 171.5 742.0 173.0C744.0 174.5 745.7 174.9 748.0 175.0C750.3 175.1 753.3 174.1 756.0 173.4C758.7 172.7 761.3 171.1 764.0 170.6C766.7 170.1 769.3 170.4 772.0 170.6C774.7 170.8 777.7 171.9 780.0 172.0C782.3 172.1 783.3 170.7 786.0 171.0C788.7 171.3 793.3 173.7 796.0 173.6C798.7 173.5 799.7 171.7 802.0 170.4C804.3 169.1 807.3 166.7 810.0 166.0C812.7 165.3 815.7 165.0 818.0 166.0C820.3 167.0 822.0 169.9 824.0 172.0C826.0 174.1 828.0 177.1 830.0 178.4C832.0 179.7 834.3 179.7 836.0 180.0C837.7 180.3 838.0 180.8 840.0 180.0C842.0 179.2 845.3 176.2 848.0 175.0C850.7 173.8 853.0 173.5 856.0 173.0C859.0 172.5 863.0 172.7 866.0 172.0C869.0 171.3 871.3 170.7 874.0 169.0C876.7 167.3 879.3 164.2 882.0 162.0C884.7 159.8 887.3 157.2 890.0 156.0C892.7 154.8 895.7 155.3 898.0 155.0C900.3 154.7 902.0 155.2 904.0 154.0C906.0 152.8 908.0 149.7 910.0 148.0C912.0 146.3 914.0 144.7 916.0 144.0C918.0 143.3 920.0 144.0 922.0 143.6C924.0 143.2 926.0 142.0 928.0 141.6C930.0 141.2 932.0 140.4 934.0 141.0C936.0 141.6 938.0 143.5 940.0 145.0C942.0 146.5 944.0 147.5 946.0 150.0C948.0 152.5 950.0 156.8 952.0 160.0C954.0 163.2 956.0 166.5 958.0 169.0C960.0 171.5 961.7 173.4 964.0 175.0C966.3 176.6 969.0 177.6 972.0 178.4C975.0 179.2 978.7 180.0 982.0 180.0C985.3 180.0 989.0 179.3 992.0 178.4C995.0 177.5 997.7 175.2 1000.0 174.4C1002.3 173.6 1004.3 173.6 1006.0 173.6C1007.7 173.6 1009.3 174.3 1010.0 174.4" stroke="#5f7482" stroke-width="3.40" stroke-opacity="0.22"/>
<path d="M643.0 189.6C643.7 190.0 645.2 192.3 647.0 192.0C648.8 191.7 651.5 188.5 654.0 187.6C656.5 186.7 659.3 185.8 662.0 186.4C664.7 187.0 667.3 189.1 670.0 191.0C672.7 192.9 675.3 195.7 678.0 198.0C680.7 200.3 683.7 204.1 686.0 204.6C688.3 205.1 690.2 202.6 692.0 201.0C693.8 199.4 695.3 198.2 697.0 195.0C698.7 191.8 700.5 185.7 702.0 182.0C703.5 178.3 704.0 175.3 706.0 173.0C708.0 170.7 711.7 170.3 714.0 168.0C716.3 165.7 717.8 161.4 720.0 159.0C722.2 156.6 725.2 153.9 727.0 153.6C728.8 153.3 729.5 154.9 731.0 157.0C732.5 159.1 734.2 163.3 736.0 166.0C737.8 168.7 740.0 171.5 742.0 173.0C744.0 174.5 745.7 174.9 748.0 175.0C750.3 175.1 753.3 174.1 756.0 173.4C758.7 172.7 761.3 171.1 764.0 170.6C766.7 170.1 769.3 170.4 772.0 170.6C774.7 170.8 777.7 171.9 780.0 172.0C782.3 172.1 783.3 170.7 786.0 171.0C788.7 171.3 793.3 173.7 796.0 173.6C798.7 173.5 799.7 171.7 802.0 170.4C804.3 169.1 807.3 166.7 810.0 166.0C812.7 165.3 815.7 165.0 818.0 166.0C820.3 167.0 822.0 169.9 824.0 172.0C826.0 174.1 828.0 177.1 830.0 178.4C832.0 179.7 834.3 179.7 836.0 180.0C837.7 180.3 838.0 180.8 840.0 180.0C842.0 179.2 845.3 176.2 848.0 175.0C850.7 173.8 853.0 173.5 856.0 173.0C859.0 172.5 863.0 172.7 866.0 172.0C869.0 171.3 871.3 170.7 874.0 169.0C876.7 167.3 879.3 164.2 882.0 162.0C884.7 159.8 887.3 157.2 890.0 156.0C892.7 154.8 895.7 155.3 898.0 155.0C900.3 154.7 902.0 155.2 904.0 154.0C906.0 152.8 908.0 149.7 910.0 148.0C912.0 146.3 914.0 144.7 916.0 144.0C918.0 143.3 920.0 144.0 922.0 143.6C924.0 143.2 926.0 142.0 928.0 141.6C930.0 141.2 932.0 140.4 934.0 141.0C936.0 141.6 938.0 143.5 940.0 145.0C942.0 146.5 944.0 147.5 946.0 150.0C948.0 152.5 950.0 156.8 952.0 160.0C954.0 163.2 956.0 166.5 958.0 169.0C960.0 171.5 961.7 173.4 964.0 175.0C966.3 176.6 969.0 177.6 972.0 178.4C975.0 179.2 978.7 180.0 982.0 180.0C985.3 180.0 989.0 179.3 992.0 178.4C995.0 177.5 997.7 175.2 1000.0 174.4C1002.3 173.6 1004.3 173.6 1006.0 173.6C1007.7 173.6 1009.3 174.3 1010.0 174.4" stroke="#5f7482" stroke-width="1.75" stroke-opacity="0.88"/>
<path d="M643.0 176.5C643.7 177.5 645.7 180.2 647.0 182.5C648.3 184.8 649.8 186.8 651.0 190.0C652.2 193.2 653.0 197.8 654.0 202.0C655.0 206.2 656.0 211.3 657.0 215.0C658.0 218.7 658.5 219.3 660.0 224.0C661.5 228.7 664.0 237.0 666.0 243.0C668.0 249.0 670.3 255.5 672.0 260.0C673.7 264.5 674.5 267.5 676.0 270.0C677.5 272.5 679.5 274.8 681.0 275.0C682.5 275.2 683.7 274.8 685.0 271.0C686.3 267.2 687.7 257.8 689.0 252.0C690.3 246.2 691.5 240.5 693.0 236.0C694.5 231.5 696.2 227.8 698.0 225.0C699.8 222.2 701.7 220.9 704.0 219.0C706.3 217.1 709.0 214.5 712.0 213.6C715.0 212.7 719.2 214.9 722.0 213.6C724.8 212.3 727.0 206.8 729.0 206.0C731.0 205.2 732.2 207.0 734.0 209.0C735.8 211.0 738.0 215.4 740.0 218.0C742.0 220.6 744.0 223.4 746.0 224.6C748.0 225.8 750.0 226.4 752.0 225.0C754.0 223.6 756.3 217.7 758.0 216.0C759.7 214.3 760.3 214.5 762.0 215.0C763.7 215.5 765.7 219.2 768.0 219.0C770.3 218.8 772.7 214.9 776.0 214.0C779.3 213.1 784.3 212.6 788.0 213.6C791.7 214.6 794.8 218.3 798.0 220.0C801.2 221.7 804.3 224.0 807.0 224.0C809.7 224.0 811.5 222.0 814.0 220.0C816.5 218.0 819.3 214.7 822.0 212.0C824.7 209.3 827.3 207.0 830.0 204.0C832.7 201.0 835.8 197.5 838.0 194.0C840.2 190.5 841.7 186.3 843.0 183.0C844.3 179.7 844.8 176.4 846.0 174.0C847.2 171.6 848.7 169.1 850.0 168.6C851.3 168.1 852.3 169.6 854.0 171.0C855.7 172.4 858.2 175.5 860.0 177.0C861.8 178.5 863.3 180.2 865.0 180.0C866.7 179.8 868.5 179.0 870.0 176.0C871.5 173.0 872.7 167.3 874.0 162.0C875.3 156.7 876.7 149.3 878.0 144.0C879.3 138.7 880.7 134.3 882.0 130.0C883.3 125.7 884.7 120.8 886.0 118.0C887.3 115.2 888.7 113.8 890.0 113.0C891.3 112.2 892.3 112.0 894.0 113.0C895.7 114.0 898.0 117.4 900.0 119.0C902.0 120.6 904.0 122.1 906.0 122.4C908.0 122.7 910.3 120.6 912.0 121.0C913.7 121.4 914.3 122.7 916.0 125.0C917.7 127.3 920.2 132.3 922.0 135.0C923.8 137.7 925.3 140.4 927.0 141.0C928.7 141.6 930.3 139.1 932.0 138.4C933.7 137.7 935.3 136.9 937.0 137.0C938.7 137.1 940.2 137.3 942.0 139.0C943.8 140.7 946.3 143.8 948.0 147.0C949.7 150.2 950.7 153.8 952.0 158.0C953.3 162.2 954.7 166.3 956.0 172.0C957.3 177.7 958.7 186.0 960.0 192.0C961.3 198.0 962.7 203.8 964.0 208.0C965.3 212.2 966.9 215.2 968.0 217.5C969.1 219.8 969.7 221.0 970.5 222.0C971.3 223.0 972.2 223.6 973.0 223.6C973.8 223.6 974.7 223.0 975.5 222.0C976.3 221.0 976.9 219.7 978.0 217.5C979.1 215.3 980.3 211.4 982.0 209.0C983.7 206.6 985.7 204.3 988.0 203.0C990.3 201.7 993.8 200.5 996.0 201.0C998.2 201.5 999.5 203.8 1001.0 206.0C1002.5 208.2 1003.7 211.5 1005.0 214.0C1006.3 216.5 1008.3 219.8 1009.0 221.0" stroke="#42545f" stroke-width="3.50" stroke-opacity="0.22"/>
<path d="M643.0 176.5C643.7 177.5 645.7 180.2 647.0 182.5C648.3 184.8 649.8 186.8 651.0 190.0C652.2 193.2 653.0 197.8 654.0 202.0C655.0 206.2 656.0 211.3 657.0 215.0C658.0 218.7 658.5 219.3 660.0 224.0C661.5 228.7 664.0 237.0 666.0 243.0C668.0 249.0 670.3 255.5 672.0 260.0C673.7 264.5 674.5 267.5 676.0 270.0C677.5 272.5 679.5 274.8 681.0 275.0C682.5 275.2 683.7 274.8 685.0 271.0C686.3 267.2 687.7 257.8 689.0 252.0C690.3 246.2 691.5 240.5 693.0 236.0C694.5 231.5 696.2 227.8 698.0 225.0C699.8 222.2 701.7 220.9 704.0 219.0C706.3 217.1 709.0 214.5 712.0 213.6C715.0 212.7 719.2 214.9 722.0 213.6C724.8 212.3 727.0 206.8 729.0 206.0C731.0 205.2 732.2 207.0 734.0 209.0C735.8 211.0 738.0 215.4 740.0 218.0C742.0 220.6 744.0 223.4 746.0 224.6C748.0 225.8 750.0 226.4 752.0 225.0C754.0 223.6 756.3 217.7 758.0 216.0C759.7 214.3 760.3 214.5 762.0 215.0C763.7 215.5 765.7 219.2 768.0 219.0C770.3 218.8 772.7 214.9 776.0 214.0C779.3 213.1 784.3 212.6 788.0 213.6C791.7 214.6 794.8 218.3 798.0 220.0C801.2 221.7 804.3 224.0 807.0 224.0C809.7 224.0 811.5 222.0 814.0 220.0C816.5 218.0 819.3 214.7 822.0 212.0C824.7 209.3 827.3 207.0 830.0 204.0C832.7 201.0 835.8 197.5 838.0 194.0C840.2 190.5 841.7 186.3 843.0 183.0C844.3 179.7 844.8 176.4 846.0 174.0C847.2 171.6 848.7 169.1 850.0 168.6C851.3 168.1 852.3 169.6 854.0 171.0C855.7 172.4 858.2 175.5 860.0 177.0C861.8 178.5 863.3 180.2 865.0 180.0C866.7 179.8 868.5 179.0 870.0 176.0C871.5 173.0 872.7 167.3 874.0 162.0C875.3 156.7 876.7 149.3 878.0 144.0C879.3 138.7 880.7 134.3 882.0 130.0C883.3 125.7 884.7 120.8 886.0 118.0C887.3 115.2 888.7 113.8 890.0 113.0C891.3 112.2 892.3 112.0 894.0 113.0C895.7 114.0 898.0 117.4 900.0 119.0C902.0 120.6 904.0 122.1 906.0 122.4C908.0 122.7 910.3 120.6 912.0 121.0C913.7 121.4 914.3 122.7 916.0 125.0C917.7 127.3 920.2 132.3 922.0 135.0C923.8 137.7 925.3 140.4 927.0 141.0C928.7 141.6 930.3 139.1 932.0 138.4C933.7 137.7 935.3 136.9 937.0 137.0C938.7 137.1 940.2 137.3 942.0 139.0C943.8 140.7 946.3 143.8 948.0 147.0C949.7 150.2 950.7 153.8 952.0 158.0C953.3 162.2 954.7 166.3 956.0 172.0C957.3 177.7 958.7 186.0 960.0 192.0C961.3 198.0 962.7 203.8 964.0 208.0C965.3 212.2 966.9 215.2 968.0 217.5C969.1 219.8 969.7 221.0 970.5 222.0C971.3 223.0 972.2 223.6 973.0 223.6C973.8 223.6 974.7 223.0 975.5 222.0C976.3 221.0 976.9 219.7 978.0 217.5C979.1 215.3 980.3 211.4 982.0 209.0C983.7 206.6 985.7 204.3 988.0 203.0C990.3 201.7 993.8 200.5 996.0 201.0C998.2 201.5 999.5 203.8 1001.0 206.0C1002.5 208.2 1003.7 211.5 1005.0 214.0C1006.3 216.5 1008.3 219.8 1009.0 221.0" stroke="#42545f" stroke-width="1.85" stroke-opacity="0.88"/>
<path d="M643.0 233.0C643.7 234.8 645.5 240.8 647.0 244.0C648.5 247.2 649.8 250.2 652.0 252.0C654.2 253.8 657.3 253.8 660.0 254.6C662.7 255.4 665.3 255.9 668.0 257.0C670.7 258.1 673.7 259.5 676.0 261.0C678.3 262.5 680.0 264.5 682.0 266.0C684.0 267.5 686.0 270.0 688.0 270.0C690.0 270.0 692.3 268.7 694.0 266.0C695.7 263.3 696.0 258.2 698.0 254.0C700.0 249.8 703.7 245.2 706.0 241.0C708.3 236.8 710.2 232.1 712.0 229.0C713.8 225.9 715.5 223.7 717.0 222.4C718.5 221.1 719.5 220.7 721.0 221.0C722.5 221.3 724.5 222.2 726.0 224.0C727.5 225.8 728.7 228.3 730.0 232.0C731.3 235.7 732.7 241.3 734.0 246.0C735.3 250.7 736.8 256.7 738.0 260.0C739.2 263.3 740.5 265.0 741.0 266.0" stroke="#2fb5d9" stroke-width="3.15" stroke-opacity="0.22"/>
<path d="M643.0 233.0C643.7 234.8 645.5 240.8 647.0 244.0C648.5 247.2 649.8 250.2 652.0 252.0C654.2 253.8 657.3 253.8 660.0 254.6C662.7 255.4 665.3 255.9 668.0 257.0C670.7 258.1 673.7 259.5 676.0 261.0C678.3 262.5 680.0 264.5 682.0 266.0C684.0 267.5 686.0 270.0 688.0 270.0C690.0 270.0 692.3 268.7 694.0 266.0C695.7 263.3 696.0 258.2 698.0 254.0C700.0 249.8 703.7 245.2 706.0 241.0C708.3 236.8 710.2 232.1 712.0 229.0C713.8 225.9 715.5 223.7 717.0 222.4C718.5 221.1 719.5 220.7 721.0 221.0C722.5 221.3 724.5 222.2 726.0 224.0C727.5 225.8 728.7 228.3 730.0 232.0C731.3 235.7 732.7 241.3 734.0 246.0C735.3 250.7 736.8 256.7 738.0 260.0C739.2 263.3 740.5 265.0 741.0 266.0" stroke="#2fb5d9" stroke-width="1.50" stroke-opacity="0.88"/>
<line x1="204" x2="246.5" y1="447.4" y2="447.4" stroke="#cfcfcf" stroke-width="2.6"/>
<line x1="342.5" x2="385.0" y1="447.4" y2="447.4" stroke="#a8a8a8" stroke-width="1.7"/>
<line x1="481" x2="523.5" y1="447.4" y2="447.4" stroke="#6a6a6a" stroke-width="2.7"/>
<line x1="619.5" x2="662.0" y1="447.4" y2="447.4" stroke="#444" stroke-width="2.8"/>
<line x1="758" x2="800.5" y1="447.4" y2="447.4" stroke="#2bb5d8" stroke-width="1.8"/>
</svg>
<div class="t title" style="left:85px;top:39px;"><span class="c">小靈便型乾散貨船</span><span class="n">2016-2020</span><span class="c c2">年現貨市場日均租金</span></div>
<div class="t title" style="left:628px;top:39px;"><span class="c">超靈便型乾散貨船</span><span class="n">2016-2020</span><span class="c c2">年現貨市場日均租金</span></div>
<div class="t ylab" style="left:17px;top:74px;"><span class="c">美元／日</span><span class="n">(</span><span class="c">淨值</span><span class="n">)</span><span class="s">*</span></div>
<div class="t ylab" style="left:547.5px;top:74px;"><span class="c">美元／日</span><span class="n">(</span><span class="c">淨值</span><span class="n">)</span><span class="s">*</span></div>
<div class="t tick sh" style="right:973px;top:95px;">10,000</div>
<div class="t tick sh" style="right:973px;top:145px;">8,000</div>
<div class="t tick sh" style="right:973px;top:194px;">6,000</div>
<div class="t tick sh" style="right:973px;top:244px;">4,000</div>
<div class="t tick sh" style="right:973px;top:293px;">2,000</div>
<div class="t tick" style="right:973px;top:343px;">0</div>
<div class="t tick sh" style="right:443px;top:94px;">15,000</div>
<div class="t tick sh" style="right:443px;top:143px;">12,000</div>
<div class="t tick sh" style="right:443px;top:192px;">9,000</div>
<div class="t tick sh" style="right:443px;top:242px;">6,000</div>
<div class="t tick sh" style="right:443px;top:291px;">3,000</div>
<div class="t tick sh" style="right:443px;top:340px;">0</div>
<div class="t mon" style="left:101.8px;top:367px;">一月</div>
<div class="t mon" style="left:633.3px;top:367px;">一月</div>
<div class="t mon" style="left:133.15px;top:367px;">二月</div>
<div class="t mon" style="left:664.65px;top:367px;">二月</div>
<div class="t mon" style="left:164.5px;top:367px;">三月</div>
<div class="t mon" style="left:696.0px;top:367px;">三月</div>
<div class="t mon" style="left:195.85000000000002px;top:367px;">四月</div>
<div class="t mon" style="left:727.3499999999999px;top:367px;">四月</div>
<div class="t mon" style="left:227.2px;top:367px;">五月</div>
<div class="t mon" style="left:758.6999999999999px;top:367px;">五月</div>
<div class="t mon" style="left:258.55px;top:367px;">六月</div>
<div class="t mon" style="left:790.05px;top:367px;">六月</div>
<div class="t mon" style="left:289.90000000000003px;top:367px;">七月</div>
<div class="t mon" style="left:821.4px;top:367px;">七月</div>
<div class="t mon" style="left:321.25px;top:367px;">八月</div>
<div class="t mon" style="left:852.75px;top:367px;">八月</div>
<div class="t mon" style="left:352.6px;top:367px;">九月</div>
<div class="t mon" style="left:884.0999999999999px;top:367px;">九月</div>
<div class="t mon" style="left:383.95000000000005px;top:367px;">十月</div>
<div class="t mon" style="left:915.45px;top:367px;">十月</div>
<div class="t mon" style="left:415.3px;top:367px;">十一月</div>
<div class="t mon" style="left:946.5px;top:367px;">十一月</div>
<div class="t mon" style="left:447px;top:367px;">十二月</div>
<div class="t mon" style="left:978px;top:367px;">十二月</div>
<div class="t foot" style="left:98px;top:390px;"><span class="sup">1</span> 所有年份以BHSI 28,000載重噸顯示</div>
<div class="t foot" style="left:642px;top:394px;"><span class="sup">2</span> BSI 58,000載重噸</div>
<div class="t ann1" style="left:194.5px;top:272px;">2020年4月3日</div>
<div class="t ann2" style="left:206px;top:290px;">$3,940</div>
<div class="t ann1" style="left:698px;top:271px;">2020年4月3日</div>
<div class="t ann2" style="left:715px;top:285px;">$5,170</div>
<div class="t yl" style="left:488px;top:124px;color:#8599a6;text-shadow:0 0 1px rgba(133,153,166,0.4)">2017</div>
<div class="t yl" style="left:488px;top:148px;color:#50626e;text-shadow:0 0 1px rgba(80,98,110,0.4)">2018</div>
<div class="t yl" style="left:480.5px;top:188px;color:#374a57;text-shadow:0 0 1px rgba(55,74,87,0.3)">2019</div>
<div class="t yl" style="left:399px;top:218px;color:#9fb5c3;text-shadow:0 0 1px rgba(159,181,195,0.4)">2016</div>
<div class="t yl" style="left:1014px;top:155px;color:#50626e;text-shadow:0 0 1px rgba(80,98,110,0.4)">2018</div>
<div class="t yl" style="left:1018px;top:181px;color:#9eb1bd;text-shadow:0 0 1px rgba(158,177,189,0.4)">2017</div>
<div class="t yl" style="left:1003.5px;top:226px;color:#374a57;text-shadow:0 0 1px rgba(55,74,87,0.3)">2019</div>
<div class="t yl" style="left:924px;top:250px;color:#9fb5c3;text-shadow:0 0 1px rgba(159,181,195,0.4)">2016</div>
<div class="t leg" style="left:254.5px;top:439px;">2016</div>
<div class="t leg" style="left:393.0px;top:439px;">2017</div>
<div class="t leg" style="left:531.5px;top:439px;">2018</div>
<div class="t leg" style="left:670.0px;top:439px;">2019</div>
<div class="t leg" style="left:808.5px;top:439px;">2020</div>
</div></body></html>
